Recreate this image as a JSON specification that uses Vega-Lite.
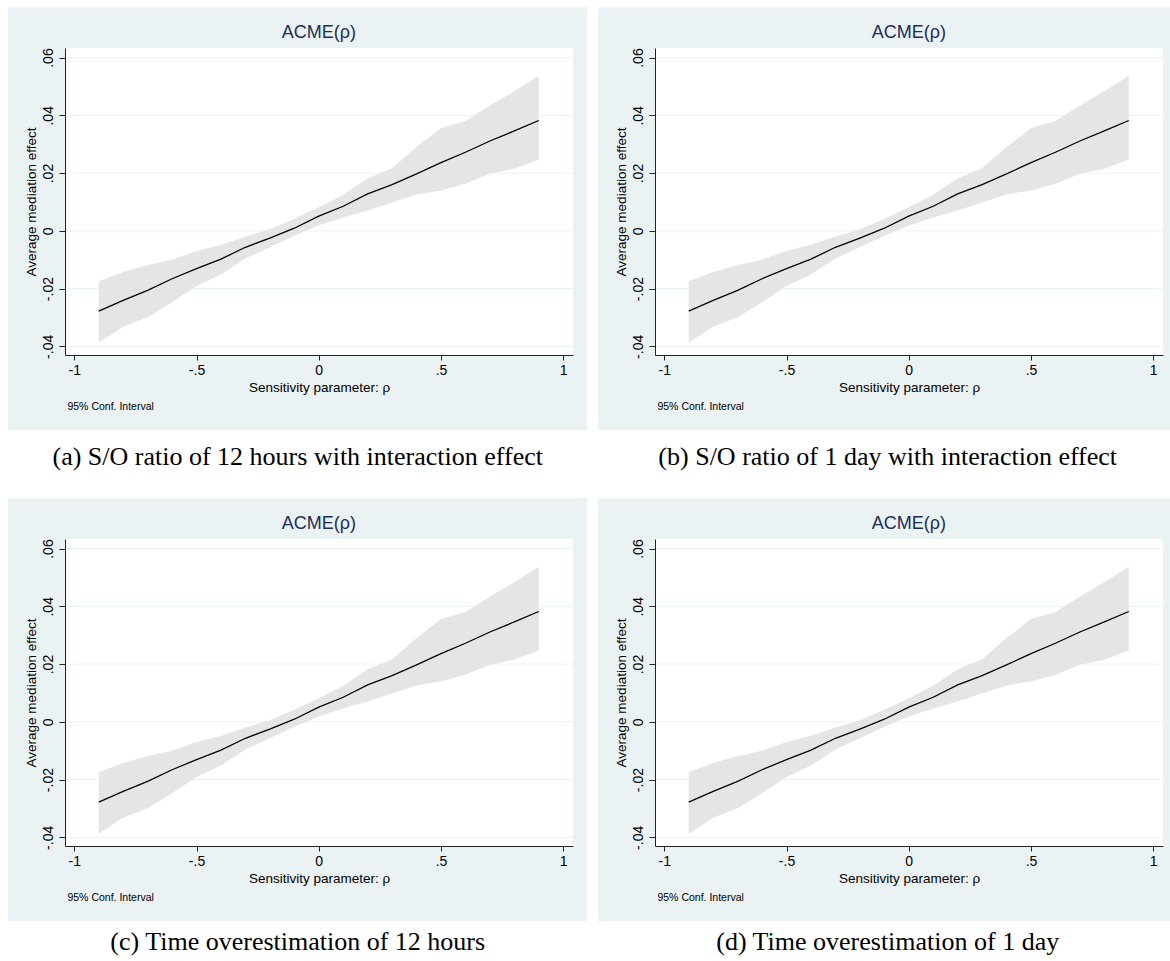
{
  "$schema": "https://vega.github.io/schema/vega-lite/v6.json",
  "background": "white",
  "padding": {"left": 7, "top": 7, "right": 0, "bottom": 0},
  "autosize": {"type": "pad"},
  "datasets": {
    "acme": [
      {"rho": -0.9, "est": -0.0278, "lo": -0.0388, "hi": -0.0175},
      {"rho": -0.8, "est": -0.0241, "lo": -0.0332, "hi": -0.0143},
      {"rho": -0.7, "est": -0.0206, "lo": -0.0299, "hi": -0.0118},
      {"rho": -0.6, "est": -0.0166, "lo": -0.0247, "hi": -0.0100},
      {"rho": -0.5, "est": -0.0131, "lo": -0.0191, "hi": -0.0070},
      {"rho": -0.4, "est": -0.0098, "lo": -0.0151, "hi": -0.0048},
      {"rho": -0.3, "est": -0.0057, "lo": -0.0096, "hi": -0.0020},
      {"rho": -0.2, "est": -0.0025, "lo": -0.0057, "hi": 0.0005},
      {"rho": -0.1, "est": 0.0009, "lo": -0.0017, "hi": 0.0042},
      {"rho": 0.0, "est": 0.0051, "lo": 0.0018, "hi": 0.0082},
      {"rho": 0.1, "est": 0.0085, "lo": 0.0046, "hi": 0.0125},
      {"rho": 0.2, "est": 0.0128, "lo": 0.0070, "hi": 0.0182},
      {"rho": 0.3, "est": 0.0160, "lo": 0.0098, "hi": 0.0217},
      {"rho": 0.4, "est": 0.0197, "lo": 0.0126, "hi": 0.0290},
      {"rho": 0.5, "est": 0.0236, "lo": 0.0140, "hi": 0.0356},
      {"rho": 0.6, "est": 0.0272, "lo": 0.0163, "hi": 0.0380},
      {"rho": 0.7, "est": 0.0311, "lo": 0.0198, "hi": 0.0434},
      {"rho": 0.8, "est": 0.0346, "lo": 0.0215, "hi": 0.0483},
      {"rho": 0.9, "est": 0.0382, "lo": 0.0247, "hi": 0.0537}
    ],
    "one": [{}]
  },
  "config": {
    "font": "Liberation Sans",
    "view": {"stroke": null},
    "axis": {
      "domainColor": "#222222",
      "domainWidth": 1,
      "tickColor": "#222222",
      "tickWidth": 1,
      "labelColor": "#000000",
      "titleColor": "#000000",
      "labelFont": "Liberation Sans",
      "titleFont": "Liberation Sans",
      "labelFontSize": 14,
      "titleFontSize": 13.5,
      "titleFontWeight": "normal"
    }
  },
  "spacing": 28,
  "vconcat": [
    {
      "spacing": 9,
      "hconcat": [
        {
          "width": 508, "height": 307,
          "layer": [
            {"data": {"name": "one"}, "mark": {"type": "rect", "color": "#EAF2F3"},
             "encoding": {"x": {"datum": -1.272}, "x2": {"datum": 1.099}, "y": {"datum": 0.0774}, "y2": {"datum": -0.069}}},
            {"data": {"name": "one"}, "mark": {"type": "rect", "color": "#FFFFFF"},
             "encoding": {"x": {"datum": -1.038}, "x2": {"datum": 1.04}, "y": {"datum": 0.0633}, "y2": {"datum": -0.043}}},
            {"data": {"name": "one"}, "mark": {"type": "rule", "color": "#EAF2F3", "strokeWidth": 1},
             "encoding": {"x": {"datum": -1.038}, "x2": {"datum": 1.04}, "y": {"datum": -0.04}}},
            {"data": {"name": "one"}, "mark": {"type": "rule", "color": "#EAF2F3", "strokeWidth": 1},
             "encoding": {"x": {"datum": -1.038}, "x2": {"datum": 1.04}, "y": {"datum": -0.02}}},
            {"data": {"name": "one"}, "mark": {"type": "rule", "color": "#EAF2F3", "strokeWidth": 1},
             "encoding": {"x": {"datum": -1.038}, "x2": {"datum": 1.04}, "y": {"datum": 0}}},
            {"data": {"name": "one"}, "mark": {"type": "rule", "color": "#EAF2F3", "strokeWidth": 1},
             "encoding": {"x": {"datum": -1.038}, "x2": {"datum": 1.04}, "y": {"datum": 0.02}}},
            {"data": {"name": "one"}, "mark": {"type": "rule", "color": "#EAF2F3", "strokeWidth": 1},
             "encoding": {"x": {"datum": -1.038}, "x2": {"datum": 1.04}, "y": {"datum": 0.04}}},
            {"data": {"name": "one"}, "mark": {"type": "rule", "color": "#EAF2F3", "strokeWidth": 1},
             "encoding": {"x": {"datum": -1.038}, "x2": {"datum": 1.04}, "y": {"datum": 0.06}}},
            {"data": {"name": "acme"}, "mark": {"type": "area", "color": "#E5E5E5", "opacity": 1},
             "encoding": {
               "x": {"field": "rho", "type": "quantitative", "scale": {"domain": [-1.038, 1.04], "nice": false, "zero": false},
                     "axis": {"zindex": 1, "values": [-1, -0.5, 0, 0.5, 1], "labelExpr": "replace(toString(datum.value), '0.', '.')", "tickSize": 5, "labelPadding": 3, "titlePadding": 3, "grid": false, "title": "Sensitivity parameter: ρ", "labelFlush": false}},
               "y": {"field": "lo", "type": "quantitative", "scale": {"domain": [-0.043, 0.0633], "nice": false, "zero": false},
                     "axis": {"zindex": 1, "values": [-0.04, -0.02, 0, 0.02, 0.04, 0.06], "labelExpr": "replace(toString(datum.value), '0.', '.')", "labelAngle": 270, "labelAlign": "center", "labelBaseline": "bottom", "tickSize": 6, "labelPadding": 4, "titlePadding": 3, "grid": false, "title": "Average mediation effect", "labelFlush": false}},
               "y2": {"field": "hi"}
             }},
            {"data": {"name": "acme"}, "mark": {"type": "line", "color": "#000000", "strokeWidth": 1.3},
             "encoding": {"x": {"field": "rho", "type": "quantitative"}, "y": {"field": "est", "type": "quantitative"}}},
            {"data": {"name": "one"}, "mark": {"type": "text", "text": "ACME(ρ)", "fontSize": 18, "color": "#1C2D5C", "baseline": "middle", "align": "center"},
             "encoding": {"x": {"datum": 0}, "y": {"datum": 0.0684}}},
            {"data": {"name": "one"}, "mark": {"type": "text", "text": "95% Conf. Interval", "fontSize": 10.5, "color": "#000000", "baseline": "middle", "align": "left"},
             "encoding": {"x": {"datum": -1.028}, "y": {"datum": -0.0609}}},
            {"data": {"name": "one"}, "mark": {"type": "text", "text": "(a) S/O ratio of 12 hours with interaction effect", "font": "Liberation Serif", "fontSize": 26, "color": "#000000", "baseline": "middle", "align": "center"},
             "encoding": {"x": {"datum": -0.086}, "y": {"datum": -0.0783}}}
          ]
        },
        {
          "width": 508, "height": 307,
          "layer": [
            {"data": {"name": "one"}, "mark": {"type": "rect", "color": "#EAF2F3"},
             "encoding": {"x": {"datum": -1.272}, "x2": {"datum": 1.099}, "y": {"datum": 0.0774}, "y2": {"datum": -0.069}}},
            {"data": {"name": "one"}, "mark": {"type": "rect", "color": "#FFFFFF"},
             "encoding": {"x": {"datum": -1.038}, "x2": {"datum": 1.04}, "y": {"datum": 0.0633}, "y2": {"datum": -0.043}}},
            {"data": {"name": "one"}, "mark": {"type": "rule", "color": "#EAF2F3", "strokeWidth": 1},
             "encoding": {"x": {"datum": -1.038}, "x2": {"datum": 1.04}, "y": {"datum": -0.04}}},
            {"data": {"name": "one"}, "mark": {"type": "rule", "color": "#EAF2F3", "strokeWidth": 1},
             "encoding": {"x": {"datum": -1.038}, "x2": {"datum": 1.04}, "y": {"datum": -0.02}}},
            {"data": {"name": "one"}, "mark": {"type": "rule", "color": "#EAF2F3", "strokeWidth": 1},
             "encoding": {"x": {"datum": -1.038}, "x2": {"datum": 1.04}, "y": {"datum": 0}}},
            {"data": {"name": "one"}, "mark": {"type": "rule", "color": "#EAF2F3", "strokeWidth": 1},
             "encoding": {"x": {"datum": -1.038}, "x2": {"datum": 1.04}, "y": {"datum": 0.02}}},
            {"data": {"name": "one"}, "mark": {"type": "rule", "color": "#EAF2F3", "strokeWidth": 1},
             "encoding": {"x": {"datum": -1.038}, "x2": {"datum": 1.04}, "y": {"datum": 0.04}}},
            {"data": {"name": "one"}, "mark": {"type": "rule", "color": "#EAF2F3", "strokeWidth": 1},
             "encoding": {"x": {"datum": -1.038}, "x2": {"datum": 1.04}, "y": {"datum": 0.06}}},
            {"data": {"name": "acme"}, "mark": {"type": "area", "color": "#E5E5E5", "opacity": 1},
             "encoding": {
               "x": {"field": "rho", "type": "quantitative", "scale": {"domain": [-1.038, 1.04], "nice": false, "zero": false},
                     "axis": {"zindex": 1, "values": [-1, -0.5, 0, 0.5, 1], "labelExpr": "replace(toString(datum.value), '0.', '.')", "tickSize": 5, "labelPadding": 3, "titlePadding": 3, "grid": false, "title": "Sensitivity parameter: ρ", "labelFlush": false}},
               "y": {"field": "lo", "type": "quantitative", "scale": {"domain": [-0.043, 0.0633], "nice": false, "zero": false},
                     "axis": {"zindex": 1, "values": [-0.04, -0.02, 0, 0.02, 0.04, 0.06], "labelExpr": "replace(toString(datum.value), '0.', '.')", "labelAngle": 270, "labelAlign": "center", "labelBaseline": "bottom", "tickSize": 6, "labelPadding": 4, "titlePadding": 3, "grid": false, "title": "Average mediation effect", "labelFlush": false}},
               "y2": {"field": "hi"}
             }},
            {"data": {"name": "acme"}, "mark": {"type": "line", "color": "#000000", "strokeWidth": 1.3},
             "encoding": {"x": {"field": "rho", "type": "quantitative"}, "y": {"field": "est", "type": "quantitative"}}},
            {"data": {"name": "one"}, "mark": {"type": "text", "text": "ACME(ρ)", "fontSize": 18, "color": "#1C2D5C", "baseline": "middle", "align": "center"},
             "encoding": {"x": {"datum": 0}, "y": {"datum": 0.0684}}},
            {"data": {"name": "one"}, "mark": {"type": "text", "text": "95% Conf. Interval", "fontSize": 10.5, "color": "#000000", "baseline": "middle", "align": "left"},
             "encoding": {"x": {"datum": -1.028}, "y": {"datum": -0.0609}}},
            {"data": {"name": "one"}, "mark": {"type": "text", "text": "(b) S/O ratio of 1 day with interaction effect", "font": "Liberation Serif", "fontSize": 26, "color": "#000000", "baseline": "middle", "align": "center"},
             "encoding": {"x": {"datum": -0.086}, "y": {"datum": -0.0783}}}
          ]
        }
      ]
    },
    {
      "spacing": 9,
      "hconcat": [
        {
          "width": 508, "height": 307,
          "layer": [
            {"data": {"name": "one"}, "mark": {"type": "rect", "color": "#EAF2F3"},
             "encoding": {"x": {"datum": -1.272}, "x2": {"datum": 1.099}, "y": {"datum": 0.0774}, "y2": {"datum": -0.069}}},
            {"data": {"name": "one"}, "mark": {"type": "rect", "color": "#FFFFFF"},
             "encoding": {"x": {"datum": -1.038}, "x2": {"datum": 1.04}, "y": {"datum": 0.0633}, "y2": {"datum": -0.043}}},
            {"data": {"name": "one"}, "mark": {"type": "rule", "color": "#EAF2F3", "strokeWidth": 1},
             "encoding": {"x": {"datum": -1.038}, "x2": {"datum": 1.04}, "y": {"datum": -0.04}}},
            {"data": {"name": "one"}, "mark": {"type": "rule", "color": "#EAF2F3", "strokeWidth": 1},
             "encoding": {"x": {"datum": -1.038}, "x2": {"datum": 1.04}, "y": {"datum": -0.02}}},
            {"data": {"name": "one"}, "mark": {"type": "rule", "color": "#EAF2F3", "strokeWidth": 1},
             "encoding": {"x": {"datum": -1.038}, "x2": {"datum": 1.04}, "y": {"datum": 0}}},
            {"data": {"name": "one"}, "mark": {"type": "rule", "color": "#EAF2F3", "strokeWidth": 1},
             "encoding": {"x": {"datum": -1.038}, "x2": {"datum": 1.04}, "y": {"datum": 0.02}}},
            {"data": {"name": "one"}, "mark": {"type": "rule", "color": "#EAF2F3", "strokeWidth": 1},
             "encoding": {"x": {"datum": -1.038}, "x2": {"datum": 1.04}, "y": {"datum": 0.04}}},
            {"data": {"name": "one"}, "mark": {"type": "rule", "color": "#EAF2F3", "strokeWidth": 1},
             "encoding": {"x": {"datum": -1.038}, "x2": {"datum": 1.04}, "y": {"datum": 0.06}}},
            {"data": {"name": "acme"}, "mark": {"type": "area", "color": "#E5E5E5", "opacity": 1},
             "encoding": {
               "x": {"field": "rho", "type": "quantitative", "scale": {"domain": [-1.038, 1.04], "nice": false, "zero": false},
                     "axis": {"zindex": 1, "values": [-1, -0.5, 0, 0.5, 1], "labelExpr": "replace(toString(datum.value), '0.', '.')", "tickSize": 5, "labelPadding": 3, "titlePadding": 3, "grid": false, "title": "Sensitivity parameter: ρ", "labelFlush": false}},
               "y": {"field": "lo", "type": "quantitative", "scale": {"domain": [-0.043, 0.0633], "nice": false, "zero": false},
                     "axis": {"zindex": 1, "values": [-0.04, -0.02, 0, 0.02, 0.04, 0.06], "labelExpr": "replace(toString(datum.value), '0.', '.')", "labelAngle": 270, "labelAlign": "center", "labelBaseline": "bottom", "tickSize": 6, "labelPadding": 4, "titlePadding": 3, "grid": false, "title": "Average mediation effect", "labelFlush": false}},
               "y2": {"field": "hi"}
             }},
            {"data": {"name": "acme"}, "mark": {"type": "line", "color": "#000000", "strokeWidth": 1.3},
             "encoding": {"x": {"field": "rho", "type": "quantitative"}, "y": {"field": "est", "type": "quantitative"}}},
            {"data": {"name": "one"}, "mark": {"type": "text", "text": "ACME(ρ)", "fontSize": 18, "color": "#1C2D5C", "baseline": "middle", "align": "center"},
             "encoding": {"x": {"datum": 0}, "y": {"datum": 0.0684}}},
            {"data": {"name": "one"}, "mark": {"type": "text", "text": "95% Conf. Interval", "fontSize": 10.5, "color": "#000000", "baseline": "middle", "align": "left"},
             "encoding": {"x": {"datum": -1.028}, "y": {"datum": -0.0609}}},
            {"data": {"name": "one"}, "mark": {"type": "text", "text": "(c) Time overestimation of 12 hours", "font": "Liberation Serif", "fontSize": 26, "color": "#000000", "baseline": "middle", "align": "center"},
             "encoding": {"x": {"datum": -0.086}, "y": {"datum": -0.0763}}}
          ]
        },
        {
          "width": 508, "height": 307,
          "layer": [
            {"data": {"name": "one"}, "mark": {"type": "rect", "color": "#EAF2F3"},
             "encoding": {"x": {"datum": -1.272}, "x2": {"datum": 1.099}, "y": {"datum": 0.0774}, "y2": {"datum": -0.069}}},
            {"data": {"name": "one"}, "mark": {"type": "rect", "color": "#FFFFFF"},
             "encoding": {"x": {"datum": -1.038}, "x2": {"datum": 1.04}, "y": {"datum": 0.0633}, "y2": {"datum": -0.043}}},
            {"data": {"name": "one"}, "mark": {"type": "rule", "color": "#EAF2F3", "strokeWidth": 1},
             "encoding": {"x": {"datum": -1.038}, "x2": {"datum": 1.04}, "y": {"datum": -0.04}}},
            {"data": {"name": "one"}, "mark": {"type": "rule", "color": "#EAF2F3", "strokeWidth": 1},
             "encoding": {"x": {"datum": -1.038}, "x2": {"datum": 1.04}, "y": {"datum": -0.02}}},
            {"data": {"name": "one"}, "mark": {"type": "rule", "color": "#EAF2F3", "strokeWidth": 1},
             "encoding": {"x": {"datum": -1.038}, "x2": {"datum": 1.04}, "y": {"datum": 0}}},
            {"data": {"name": "one"}, "mark": {"type": "rule", "color": "#EAF2F3", "strokeWidth": 1},
             "encoding": {"x": {"datum": -1.038}, "x2": {"datum": 1.04}, "y": {"datum": 0.02}}},
            {"data": {"name": "one"}, "mark": {"type": "rule", "color": "#EAF2F3", "strokeWidth": 1},
             "encoding": {"x": {"datum": -1.038}, "x2": {"datum": 1.04}, "y": {"datum": 0.04}}},
            {"data": {"name": "one"}, "mark": {"type": "rule", "color": "#EAF2F3", "strokeWidth": 1},
             "encoding": {"x": {"datum": -1.038}, "x2": {"datum": 1.04}, "y": {"datum": 0.06}}},
            {"data": {"name": "acme"}, "mark": {"type": "area", "color": "#E5E5E5", "opacity": 1},
             "encoding": {
               "x": {"field": "rho", "type": "quantitative", "scale": {"domain": [-1.038, 1.04], "nice": false, "zero": false},
                     "axis": {"zindex": 1, "values": [-1, -0.5, 0, 0.5, 1], "labelExpr": "replace(toString(datum.value), '0.', '.')", "tickSize": 5, "labelPadding": 3, "titlePadding": 3, "grid": false, "title": "Sensitivity parameter: ρ", "labelFlush": false}},
               "y": {"field": "lo", "type": "quantitative", "scale": {"domain": [-0.043, 0.0633], "nice": false, "zero": false},
                     "axis": {"zindex": 1, "values": [-0.04, -0.02, 0, 0.02, 0.04, 0.06], "labelExpr": "replace(toString(datum.value), '0.', '.')", "labelAngle": 270, "labelAlign": "center", "labelBaseline": "bottom", "tickSize": 6, "labelPadding": 4, "titlePadding": 3, "grid": false, "title": "Average mediation effect", "labelFlush": false}},
               "y2": {"field": "hi"}
             }},
            {"data": {"name": "acme"}, "mark": {"type": "line", "color": "#000000", "strokeWidth": 1.3},
             "encoding": {"x": {"field": "rho", "type": "quantitative"}, "y": {"field": "est", "type": "quantitative"}}},
            {"data": {"name": "one"}, "mark": {"type": "text", "text": "ACME(ρ)", "fontSize": 18, "color": "#1C2D5C", "baseline": "middle", "align": "center"},
             "encoding": {"x": {"datum": 0}, "y": {"datum": 0.0684}}},
            {"data": {"name": "one"}, "mark": {"type": "text", "text": "95% Conf. Interval", "fontSize": 10.5, "color": "#000000", "baseline": "middle", "align": "left"},
             "encoding": {"x": {"datum": -1.028}, "y": {"datum": -0.0609}}},
            {"data": {"name": "one"}, "mark": {"type": "text", "text": "(d) Time overestimation of 1 day", "font": "Liberation Serif", "fontSize": 26, "color": "#000000", "baseline": "middle", "align": "center"},
             "encoding": {"x": {"datum": -0.086}, "y": {"datum": -0.0763}}}
          ]
        }
      ]
    }
  ]
}
